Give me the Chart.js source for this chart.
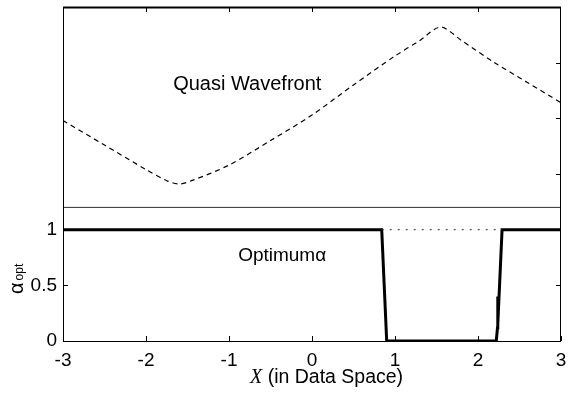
<!DOCTYPE html>
<html>
<head>
<meta charset="utf-8">
<script src="https://cdn.jsdelivr.net/npm/chart.js@4.4.1/dist/chart.umd.min.js"></script>
<style>
  html, body { margin: 0; padding: 0; background: #fff; }
  #wrap { width: 568px; height: 393px; }
</style>
</head>
<body>
<div id="wrap"><canvas id="chart"></canvas></div>
<script>
// Quasi wavefront (dashed, upper panel)
const waveX = [-3, -2.5, -2, -1.75, -1.6, -1.45, -1, -0.5, 0, 0.5, 1, 1.3, 1.55, 1.8, 2.2, 2.6, 3];
const waveY = [1.98, 1.76, 1.54, 1.44, 1.41, 1.44, 1.58, 1.80, 2.03, 2.30, 2.56, 2.70, 2.82, 2.70, 2.50, 2.32, 2.14];

// Optimum alpha (thick step line)
const alphaX = [-3, 0.84, 0.90, 2.22, 2.235, 2.24, 2.237, 2.29, 3];
const alphaY = [1, 1, 0, 0, 0.12, 0.40, 0.15, 1, 1];

// dotted reference at alpha = 1 over the gap
const dotX = [0.84, 2.29];
const dotY = [1, 1];

// panel separator
const sepX = [-3, 3];
const sepY = [1.2, 1.2];

const xTicks = [-3, -2, -1, 0, 1, 2, 3];
const topTicks = [-2, -1, 0, 1, 2];
const leftTicks = [0, 0.5, 1];
const rightTicks = [0.5, 1, 1.5, 2, 2.5];

const FONT = "'Liberation Sans', Arial, Helvetica, sans-serif";

const toPts = (xs, ys) => xs.map((x, i) => ({ x: x, y: ys[i] }));

const decor = {
  id: "decor",
  afterDraw(chart) {
    const ctx = chart.ctx;
    const a = chart.chartArea;
    const xs = chart.scales.x, ys = chart.scales.y;
    ctx.save();
    ctx.strokeStyle = "#000";
    ctx.lineWidth = 1;
    // box
    ctx.strokeRect(a.left + 0.5, a.top + 0.5, a.right - a.left - 1, a.bottom - a.top);
    ctx.beginPath();
    ctx.lineWidth = 2;
    ctx.moveTo(a.left, a.top + 0.5);
    ctx.lineTo(a.right, a.top + 0.5);
    ctx.stroke();
    // inside ticks
    ctx.lineWidth = 1;
    ctx.beginPath();
    xTicks.forEach(v => {
      const px = Math.round(xs.getPixelForValue(v)) + 0.5;
      ctx.moveTo(px, a.bottom);
      ctx.lineTo(px, a.bottom - 5);
    });
    topTicks.forEach(v => {
      const px = Math.round(xs.getPixelForValue(v)) + 0.5;
      ctx.moveTo(px, a.top);
      ctx.lineTo(px, a.top + 5);
    });
    leftTicks.forEach(v => {
      const py = Math.round(ys.getPixelForValue(v)) + 0.5;
      ctx.moveTo(a.left, py);
      ctx.lineTo(a.left + 5, py);
    });
    rightTicks.forEach(v => {
      const py = Math.round(ys.getPixelForValue(v)) + 0.5;
      ctx.moveTo(a.right, py);
      ctx.lineTo(a.right - 5, py);
    });
    ctx.stroke();

    // panel labels
    ctx.fillStyle = "#000";
    ctx.textAlign = "center";
    ctx.textBaseline = "middle";
    ctx.font = "20px " + FONT;
    ctx.fillText("Quasi Wavefront", xs.getPixelForValue(-0.78), ys.getPixelForValue(2.30));
    ctx.textAlign = "left";
    ctx.font = "19px " + FONT;
    ctx.fillText("Optimum\u03B1", xs.getPixelForValue(-0.89), ys.getPixelForValue(0.77));

    // x title with italic X
    const base = 383;
    ctx.textBaseline = "alphabetic";
    ctx.font = "italic 20px 'Liberation Serif', 'Times New Roman', serif";
    const wX = ctx.measureText("X").width;
    ctx.font = "19.5px " + FONT;
    const rest = " (in Data Space)";
    const wR = ctx.measureText(rest).width;
    const x0 = 250;
    ctx.font = "italic 20px 'Liberation Serif', 'Times New Roman', serif";
    ctx.fillText("X", x0, base);
    ctx.font = "19.5px " + FONT;
    ctx.fillText(rest, x0 + wX, base);

    // y title: alpha with subscript "opt"
    ctx.translate(23, 294);
    ctx.rotate(-Math.PI / 2);
    ctx.font = "20px " + FONT;
    ctx.fillText("\u03B1", 0, 0);
    const wa = ctx.measureText("\u03B1").width;
    ctx.font = "12px " + FONT;
    ctx.fillText("opt", wa + 2, 0);
    ctx.restore();
  }
};

new Chart(document.getElementById("chart"), {
  type: "line",
  data: {
    datasets: [
      {
        data: toPts(sepX, sepY),
        borderColor: "#333",
        borderWidth: 1,
        pointRadius: 0,
      },
      {
        data: toPts(waveX, waveY),
        borderColor: "#000",
        borderWidth: 1.2,
        borderDash: [5, 4],
        pointRadius: 0,
        tension: 0.3,
      },
      {
        data: toPts(dotX, dotY),
        borderColor: "#333",
        borderWidth: 1,
        borderDash: [2, 6],
        pointRadius: 0,
      },
      {
        data: toPts(alphaX, alphaY),
        borderColor: "#000",
        borderWidth: 3,
        pointRadius: 0,
        borderJoinStyle: "miter",
      },
    ],
  },
  options: {
    responsive: true,
    maintainAspectRatio: false,
    animation: false,
    events: [],
    layout: { padding: { top: 7, right: 7, left: 0, bottom: 0 } },
    plugins: { legend: { display: false }, tooltip: { enabled: false } },
    scales: {
      x: {
        type: "linear",
        min: -3,
        max: 3,
        afterBuildTicks: s => { s.ticks = xTicks.map(v => ({ value: v })); },
        afterFit: s => { s.height = 52; s.paddingLeft = 0; s.paddingRight = 0; },
        grid: { display: false, drawTicks: false },
        border: { display: false },
        ticks: { color: "#000", font: { family: FONT, size: 19 }, padding: 8, maxRotation: 0, callback: v => String(v) },
      },
      y: {
        type: "linear",
        min: 0,
        max: 3,
        afterBuildTicks: s => { s.ticks = leftTicks.map(v => ({ value: v })); },
        afterFit: s => { s.width = 63; s.paddingTop = 0; s.paddingBottom = 0; },
        grid: { display: false, drawTicks: false },
        border: { display: false },
        ticks: { color: "#000", font: { family: FONT, size: 19 }, padding: 6, callback: v => String(v) },
      },
    },
  },
  plugins: [decor],
});
</script>
</body>
</html>
